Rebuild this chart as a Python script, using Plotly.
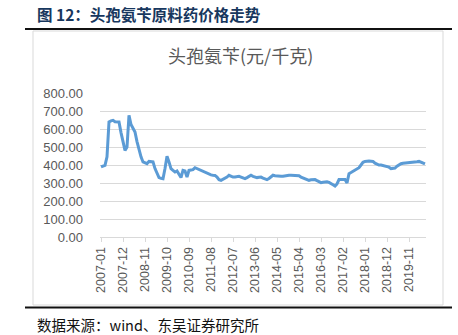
import plotly.graph_objects as go

start_year, start_month = 2007, 1
prices = [
    389, 395, 398, 445, 639, 645, 648, 640, 639, 639, 580, 530,
    481, 500, 676, 625, 600, 583, 530, 481, 445, 417, 410, 407,
    420, 420, 417, 380, 352, 330, 326, 324, 380, 448, 417, 380,
    370, 361, 367, 350, 330, 370, 367, 333, 370, 372, 374, 385,
    380, 372, 368, 365, 361, 355, 348, 345, 343, 342, 333, 318,
    315, 320, 324, 333, 343, 338, 333, 333, 335, 337, 333, 328,
    324, 330, 337, 343, 337, 332, 330, 332, 333, 327, 322, 319,
    325, 335, 343, 340, 338, 337, 337, 337, 340, 343, 343, 343,
    343, 343, 343, 340, 333, 328, 324, 320, 315, 318, 320, 319,
    313, 307, 302, 304, 306, 307, 303, 298, 290, 283, 295, 319,
    320, 319, 319, 300, 352, 358, 365, 370, 378, 385, 400, 415,
    420, 422, 422, 421, 420, 410, 404, 400, 400, 398, 396, 393,
    388, 380, 381, 383, 393, 402, 407, 410, 411, 411, 411, 411,
    412, 415, 418, 420, 416, 410, 406,
]
months = []
y, m = start_year, start_month
for _ in prices:
    months.append(f"{y:04d}-{m:02d}")
    m += 1
    if m > 12:
        m = 1
        y += 1
tick_labels = months[::11]
y_ticks = [0, 100, 200, 300, 400, 500, 600, 700, 800]

W, H = 458, 335
L, R, T, B = 100, 32, 93, 98
PW, PH = W - L - R, H - T - B


def px(x):
    return (x - L) / PW


def py(y):
    return (H - B - y) / PH


fig = go.Figure()
fig.add_trace(go.Scatter(
    x=months, y=prices, mode="lines",
    line=dict(color="#5B9BD5", width=3), hoverinfo="skip",
))

fig.update_layout(
    width=W, height=H,
    margin=dict(l=L, r=R, t=T, b=B),
    paper_bgcolor="white", plot_bgcolor="white",
    showlegend=False,
    font=dict(family="Noto Sans CJK SC, Noto Sans, sans-serif", color="#595959"),
)
fig.update_xaxes(
    type="category", range=[-0.5, len(prices) - 0.5],
    tickmode="array", tickvals=tick_labels, ticktext=tick_labels,
    tickangle=-90, tickfont=dict(size=12.5, color="#595959", family="Liberation Sans, Arial"),
    showgrid=False, showline=True, linecolor="#d9d9d9", linewidth=1,
    ticks="outside", ticklen=4, tickcolor="#d9d9d9", zeroline=False,
)
fig.update_yaxes(
    range=[0, 800], tickvals=y_ticks, ticktext=[f"{v:.2f}" for v in y_ticks],
    tickfont=dict(size=13, color="#595959", family="Liberation Sans, Arial"),
    showgrid=True, gridcolor="#d9d9d9", gridwidth=1, zeroline=False,
    showline=False, ticks="", ticklabelstandoff=16,
)

shapes = [
    # chart box
    dict(type="rect", xref="paper", yref="paper", x0=px(33), x1=px(443), y0=py(305), y1=py(31),
         line=dict(color="#d9d9d9", width=1), fillcolor="rgba(0,0,0,0)", layer="below"),
    # top rule
    dict(type="line", xref="paper", yref="paper", x0=px(25), x1=px(452), y0=py(29), y1=py(29),
         line=dict(color="#111111", width=2)),
    # bottom rule
    dict(type="line", xref="paper", yref="paper", x0=px(25), x1=px(452), y0=py(307.5), y1=py(307.5),
         line=dict(color="#111111", width=2)),
]
fig.update_layout(shapes=shapes)

annotations = [
    dict(text="<b>图 12：头孢氨苄原料药价格走势</b>", x=px(35), y=py(14), xref="paper", yref="paper",
         xanchor="left", yanchor="middle", showarrow=False,
         font=dict(size=15.5, color="#17375E", family="Noto Sans CJK SC")),
    dict(text="头孢氨苄(元/千克)", x=px(240), y=py(55), xref="paper", yref="paper",
         xanchor="center", yanchor="middle", showarrow=False,
         font=dict(size=18, color="#595959", family="Noto Sans CJK SC")),
    dict(text="数据来源：wind、东吴证券研究所", x=px(35), y=py(324), xref="paper", yref="paper",
         xanchor="left", yanchor="middle", showarrow=False,
         font=dict(size=14.5, color="#111111", family="Noto Sans CJK SC")),
]
fig.update_layout(annotations=annotations)

fig.write_html("out.html")
